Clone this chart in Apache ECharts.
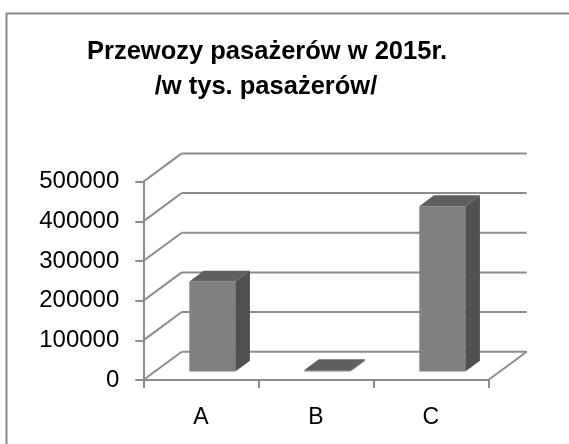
<!DOCTYPE html>
<html><head><meta charset="utf-8">
<script src="https://cdn.jsdelivr.net/npm/echarts@6/dist/echarts.min.js"></script>
<style>html,body{margin:0;padding:0;background:#fff}#c{width:569px;height:444px}</style>
</head><body><div id="c"></div>
<script>
const categories = ['A', 'B', 'C'];
const values = [227000, 4000, 417000];
const yTicks = [0, 100000, 200000, 300000, 400000, 500000];
const titleLines = ['Przewozy pasażerów w 2015r.', '/w tys. pasażerów/'];

const DX = 38.4, DY = -28.3;          // depth offset of the back wall
const F1 = 0.3, F2 = 0.68;            // bar depth range (fraction of depth)
const GRID = '#8c8c8c';
const FONT = '"Liberation Sans", Arial, sans-serif';

const chart = echarts.init(document.getElementById('c'), null, {renderer: 'canvas'});

function renderFrame(params, api) {
  const cs = params.coordSys;
  const x0 = cs.x, x1 = cs.x + cs.width;
  const ls = {stroke: GRID, lineWidth: 2, fill: null};
  const children = [];
  yTicks.forEach(function (v) {
    const y = api.coord([0, v])[1];
    children.push({type: 'line', shape: {x1: x0 + DX, y1: y + DY, x2: x1 + DX, y2: y + DY}, style: ls});
    children.push({type: 'line', shape: {x1: x0, y1: y, x2: x0 + DX, y2: y + DY}, style: ls});
  });
  const yb = api.coord([0, 0])[1];
  children.push({type: 'line', shape: {x1: x1, y1: yb, x2: x1 + DX, y2: yb + DY}, style: ls});
  return {type: 'group', children: children};
}

function renderBar(params, api) {
  const i = api.value(0), v = api.value(1);
  const top = api.coord([i, v]);
  const base = api.coord([i, 0]);
  const bw = api.size([1, 0])[0] * 0.4;
  const xl = top[0] - bw / 2 + DX * F1, xr = xl + bw;
  const yt = top[1] + DY * F1, yb = base[1] + DY * F1;
  const ddx = DX * (F2 - F1), ddy = DY * (F2 - F1);
  return {
    type: 'group',
    children: [
      {type: 'polygon', shape: {points: [[xl, yt], [xr, yt], [xr, yb], [xl, yb]]}, style: {fill: '#808080'}},
      {type: 'polygon', shape: {points: [[xr, yt], [xr + ddx, yt + ddy], [xr + ddx, yb + ddy], [xr, yb]]}, style: {fill: '#505050'}},
      {type: 'polygon', shape: {points: [[xl, yt], [xl + ddx, yt + ddy], [xr + ddx, yt + ddy], [xr, yt]]}, style: {fill: '#5f5f5f'}}
    ]
  };
}

chart.setOption({
  animation: false,
  backgroundColor: '#fff',
  grid: {left: 143.3, right: 80.7, top: 181.7, bottom: 64},
  xAxis: {
    type: 'category',
    data: categories,
    boundaryGap: true,
    axisLine: {show: true, lineStyle: {color: GRID, width: 2}},
    axisTick: {show: true, length: 8, lineStyle: {color: GRID, width: 2}},
    axisLabel: {color: '#000', fontSize: 23, fontFamily: FONT, margin: 26},
    splitLine: {show: false}
  },
  yAxis: {
    type: 'value',
    min: 0, max: 500000, interval: 100000,
    axisLine: {show: true, lineStyle: {color: GRID, width: 2}},
    axisTick: {show: true, length: 8, lineStyle: {color: GRID, width: 2}},
    axisLabel: {color: '#000', fontSize: 24, fontFamily: FONT, margin: 24, formatter: function (v) { return String(v); }},
    splitLine: {show: false}
  },
  graphic: [
    {type: 'rect', shape: {x: 6.5, y: 13.5, width: 700, height: 600}, style: {fill: null, stroke: GRID, lineWidth: 2}, silent: true},
    {type: 'text', x: 267, y: 52, style: {text: titleLines[0], font: 'bold 25.5px ' + FONT, fill: '#000', textAlign: 'center', textVerticalAlign: 'middle'}},
    {type: 'text', x: 266, y: 87, style: {text: titleLines[1], font: 'bold 25.5px ' + FONT, fill: '#000', textAlign: 'center', textVerticalAlign: 'middle'}}
  ],
  series: [
    {type: 'custom', name: 'frame', renderItem: renderFrame, data: [[0, 0]], clip: false, silent: true, z: 1},
    {type: 'custom', name: 'Przewozy', renderItem: renderBar, data: values.map(function (v, i) { return [i, v]; }), clip: false, z: 2}
  ]
});
</script>
</body></html>
